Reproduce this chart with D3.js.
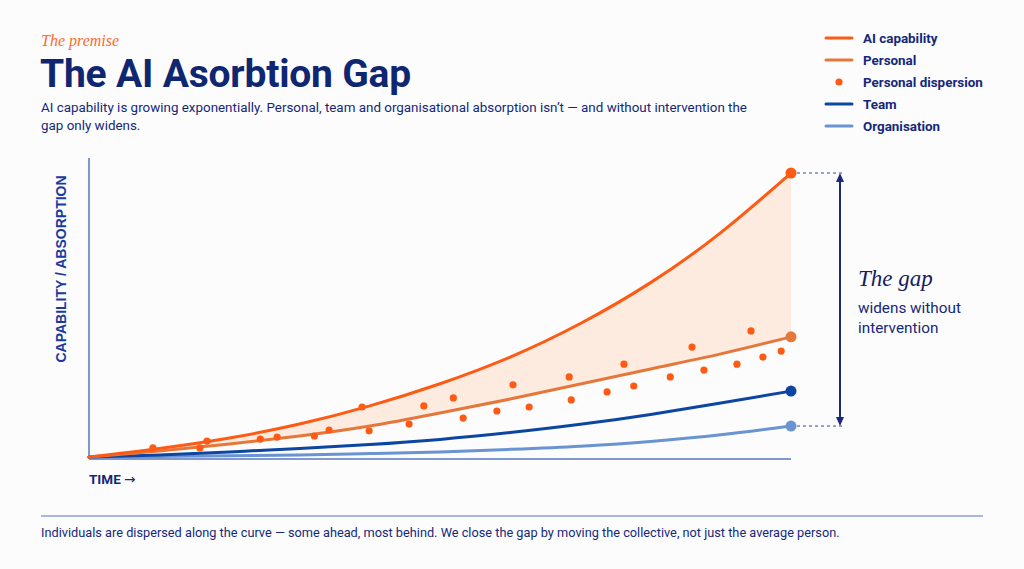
<!DOCTYPE html>
<html>
<head>
<meta charset="utf-8">
<script src="https://cdn.jsdelivr.net/npm/d3@7"></script>
<style>
  html, body { margin: 0; padding: 0; background: #fcfcfd; }
  svg { display: block; }
</style>
</head>
<body>
<svg id="chart" width="1024" height="569"></svg>
<script>
// time steps and curve values (0 = start, 100 = AI capability at the end)
const TIME = [0, 1, 2, 3, 4, 5, 6, 7, 8, 9, 10];
const AI_CAPABILITY = [0, 3.0, 6.7, 11.6, 18.0, 25.8, 35.2, 47.0, 61.4, 79.0, 100];
const PERSONAL = [0, 2.1, 4.6, 7.4, 10.9, 15.5, 20.4, 25.7, 31, 36.3, 42.3];
const TEAM = [0, 0.7, 1.8, 3.0, 4.4, 6.2, 8.6, 11.5, 15.0, 19, 23.2];
const ORGANISATION = [0, 0.2, 0.4, 0.7, 1.2, 1.8, 2.7, 3.8, 5.5, 7.8, 10.9];

// individual people scattered around the personal curve
const DISPERSION_T = [0.91, 1.58, 1.68, 2.44, 2.68, 3.21, 3.42, 3.89, 3.99, 4.56, 4.77, 5.19, 5.33, 5.81,
    6.04, 6.27, 6.84, 6.87, 7.38, 7.62, 7.76, 8.28, 8.59, 8.76, 9.23, 9.43, 9.60, 9.86];
const DISPERSION_V = [3.2, 3.2, 5.6, 6.3, 7.0, 7.4, 9.5, 17.6, 9.2, 11.6, 18.0, 20.8, 13.7, 16.2,
    25.4, 17.6, 28.2, 20.1, 22.9, 32.7, 25.0, 28.2, 38.7, 30.6, 32.7, 44.4, 35.2, 37.3];

const LEGEND_LABELS = ["AI capability", "Personal", "Personal dispersion", "Team", "Organisation"];

const NAVY = "#14287a";
const ORANGE = "#ff5a14";
const PERSONAL_C = "#e6773a";
const TEAM_C = "#0c46a0";
const ORG_C = "#6a93d2";
const AXIS_C = "#5677c0";

let svg = d3.select("#chart");

let x = d3.scaleLinear().domain([0, 10]).range([89, 791]);
let y = d3.scaleLinear().domain([0, 100]).range([457, 173]);

// header
svg.append("text").attr("x", 41).attr("y", 46)
    .attr("font-family", "Liberation Serif").attr("font-style", "italic")
    .attr("font-size", 16).attr("fill", "#ff6a2a").text("The premise");
svg.append("text").attr("x", 40).attr("y", 87)
    .attr("font-family", "Roboto").attr("font-weight", 700)
    .attr("font-size", 39).attr("fill", "#0f2670").attr("letter-spacing", -0.2)
    .text("The AI Asorbtion Gap");
let sub = svg.append("text").attr("font-family", "Roboto").attr("font-size", 13.4)
    .attr("fill", NAVY);
sub.append("tspan").attr("x", 41).attr("y", 112)
    .text("AI capability is growing exponentially. Personal, team and organisational absorption isn\u2019t \u2014 and without intervention the");
sub.append("tspan").attr("x", 41).attr("y", 130).text("gap only widens.");

// legend
let legend = svg.append("g");
let legendColors = [ORANGE, PERSONAL_C, ORANGE, TEAM_C, ORG_C];
LEGEND_LABELS.forEach((d, i) => {
    let ly = 38 + i * 22;
    if (i === 2) {
        legend.append("circle").attr("cx", 839).attr("cy", ly).attr("r", 3.6).attr("fill", legendColors[i]);
    } else {
        legend.append("line").attr("x1", 826).attr("x2", 852).attr("y1", ly).attr("y2", ly)
            .attr("stroke", legendColors[i]).attr("stroke-width", 3).attr("stroke-linecap", "round");
    }
    legend.append("text").attr("x", 863).attr("y", ly + 4.5)
        .attr("font-family", "Roboto").attr("font-weight", 700).attr("font-size", 13.4)
        .attr("fill", NAVY).text(d);
});

// gap area between AI capability and personal
let area = d3.area()
    .x((d, i) => x(TIME[i]))
    .y0((d, i) => y(PERSONAL[i]))
    .y1((d, i) => y(AI_CAPABILITY[i]))
    .curve(d3.curveNatural);
svg.append("path").datum(TIME).attr("d", area).attr("fill", "#fde9dc").attr("opacity", 0.9);

// axes
svg.append("line").attr("x1", x(0)).attr("x2", x(0)).attr("y1", 158).attr("y2", 459)
    .attr("stroke", AXIS_C).attr("stroke-width", 1.5);
svg.append("line").attr("x1", x(0)).attr("x2", x(10)).attr("y1", 459).attr("y2", 459)
    .attr("stroke", AXIS_C).attr("stroke-width", 1.5);

svg.append("text")
    .attr("transform", "translate(65.5," + 269 + ") rotate(-90)")
    .attr("text-anchor", "middle")
    .attr("font-family", "Liberation Sans").attr("font-weight", 700).attr("font-size", 14)
    .attr("fill", "#1a3aa0").text("CAPABILITY / ABSORPTION");
let timeLabel = svg.append("text").attr("x", 89).attr("y", 484)
    .attr("font-family", "Roboto").attr("font-weight", 700).attr("font-size", 13.5)
    .attr("fill", NAVY);
timeLabel.append("tspan").text("TIME ");
timeLabel.append("tspan").attr("font-family", "DejaVu Sans").attr("font-weight", 400).text("\u2192");

// curves
let series = [
    { values: ORGANISATION, color: ORG_C, width: 3 },
    { values: TEAM, color: TEAM_C, width: 3 },
    { values: PERSONAL, color: PERSONAL_C, width: 3 },
    { values: AI_CAPABILITY, color: ORANGE, width: 3 }
];

series.forEach((s) => {
    let line = d3.line()
        .x((d, i) => x(TIME[i]))
        .y((d) => y(d))
        .curve(d3.curveNatural);
    svg.append("path").datum(s.values).attr("d", line)
        .attr("fill", "none").attr("stroke", s.color).attr("stroke-width", s.width)
        .attr("stroke-linecap", "round");
});

// dispersion dots
svg.append("g").selectAll("circle")
    .data(DISPERSION_T)
    .join("circle")
    .attr("cx", (d) => x(d))
    .attr("cy", (d, i) => y(DISPERSION_V[i]))
    .attr("r", 3.6)
    .attr("fill", ORANGE);

// end points
let last = TIME.length - 1;
series.forEach((s) => {
    svg.append("circle").attr("cx", x(TIME[last])).attr("cy", y(s.values[last]))
        .attr("r", 5.5).attr("fill", s.color);
});

// gap annotation
let gapTop = y(AI_CAPABILITY[last]);
let gapBottom = y(ORGANISATION[last]);
let gapX = 840;
[gapTop, gapBottom].forEach((gy) => {
    svg.append("line").attr("x1", x(TIME[last]) + 6).attr("x2", gapX + 4).attr("y1", gy).attr("y2", gy)
        .attr("stroke", "#2d4aa0").attr("stroke-width", 1).attr("stroke-dasharray", "3,3");
});
svg.append("line").attr("x1", gapX).attr("x2", gapX).attr("y1", gapTop + 4).attr("y2", gapBottom - 4)
    .attr("stroke", "#1b2a78").attr("stroke-width", 2);
svg.append("path").attr("d", d3.line()([[gapX - 4, gapTop + 9], [gapX, gapTop], [gapX + 4, gapTop + 9]]) + "Z")
    .attr("fill", "#1b2a78");
svg.append("path").attr("d", d3.line()([[gapX - 4, gapBottom - 9], [gapX, gapBottom], [gapX + 4, gapBottom - 9]]) + "Z")
    .attr("fill", "#1b2a78");

svg.append("text").attr("x", 858).attr("y", 286)
    .attr("font-family", "Liberation Serif").attr("font-style", "italic")
    .attr("font-size", 23).attr("fill", "#14215e").text("The gap");
let gapText = svg.append("text").attr("font-family", "Roboto").attr("font-size", 15.3).attr("fill", NAVY);
gapText.append("tspan").attr("x", 858).attr("y", 313).text("widens without");
gapText.append("tspan").attr("x", 858).attr("y", 333).text("intervention");

// footer
svg.append("line").attr("x1", 41).attr("x2", 983).attr("y1", 516).attr("y2", 516)
    .attr("stroke", AXIS_C).attr("stroke-width", 1.2);
svg.append("text").attr("x", 41).attr("y", 537)
    .attr("font-family", "Roboto").attr("font-size", 12.75).attr("fill", NAVY)
    .text("Individuals are dispersed along the curve \u2014 some ahead, most behind. We close the gap by moving the collective, not just the average person.");
</script>
</body>
</html>
